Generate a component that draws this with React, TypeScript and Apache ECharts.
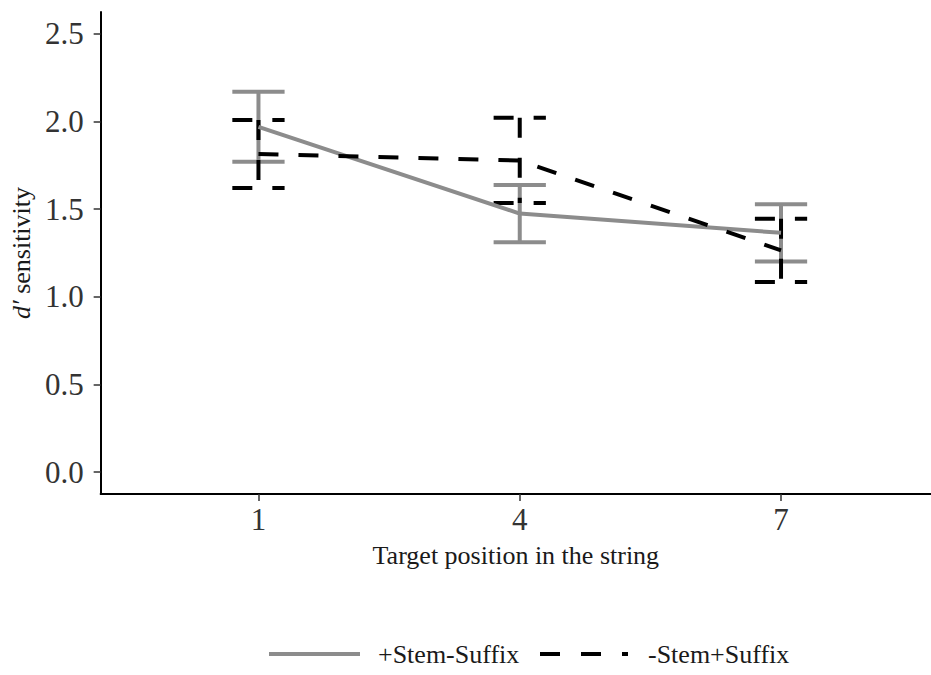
import React, { useEffect, useRef } from "react";
import * as echarts from "echarts";

// ---- data ----
const positionLabels = ["1", "4", "7"];
const positionIndex = [1, 2, 3];
const stemSuffixMean = [1.97, 1.475, 1.365];
const stemSuffixErr = [0.2, 0.163, 0.163];
const suffixMean = [1.815, 1.778, 1.265];
const suffixErr = [0.194, 0.243, 0.18];
const yTicks = [0, 0.5, 1.0, 1.5, 2.0, 2.5];

const GRAY = "#8c8c8c";
const BLACK = "#000000";
const FONT = "'Liberation Serif', 'Times New Roman', serif";
const DASH = [20, 20];

function errorBarSeries(name: string, means: number[], errs: number[], color: string, dash: number[] | null) {
  const data = positionIndex.map((x, i) => [x, means[i] - errs[i], means[i] + errs[i]]);
  return {
    type: "custom",
    name,
    data,
    encode: { x: 0, y: [1, 2] },
    renderItem: (params: any, api: any) => {
      const x = api.value(0);
      const lo = api.value(1);
      const hi = api.value(2);
      const top = api.coord([x, hi]);
      const bot = api.coord([x, lo]);
      const hw = api.size([0.1, 0])[0];
      const style: any = { stroke: color, lineWidth: 4, fill: null };
      if (dash) style.lineDash = dash;
      return {
        type: "group",
        children: [
          { type: "line", shape: { x1: top[0] - hw, y1: top[1], x2: top[0] + hw, y2: top[1] }, style: { ...style } },
          { type: "line", shape: { x1: top[0], y1: top[1], x2: bot[0], y2: bot[1] }, style: { ...style } },
          { type: "line", shape: { x1: bot[0] - hw, y1: bot[1], x2: bot[0] + hw, y2: bot[1] }, style: { ...style } },
        ],
      };
    },
  };
}

export default function App() {
  const ref = useRef<HTMLDivElement>(null);
  useEffect(() => {
    if (!ref.current) return;
    const chart = echarts.init(ref.current, null, { renderer: "svg" });
    const option: any = {
      animation: false,
      backgroundColor: "#ffffff",
      grid: { left: 100, top: 12, right: 0, bottom: 181, containLabel: false },
      xAxis: {
        type: "value",
        min: 0.396,
        max: 3.574,
        name: "Target position in the string",
        nameLocation: "middle",
        nameGap: 48,
        nameTextStyle: { fontFamily: FONT, fontSize: 26, color: "#1a1a1a" },
        axisLine: { show: true, onZero: false, lineStyle: { color: "#000", width: 2 } },
        axisTick: { show: true, length: 7, customValues: positionIndex, lineStyle: { color: "#333", width: 1.5 } },
        axisLabel: {
          customValues: positionIndex,
          margin: 10,
          fontFamily: FONT,
          fontSize: 31,
          color: "#333",
          formatter: (v: number) => positionLabels[positionIndex.indexOf(Math.round(v))] ?? "",
        },
        splitLine: { show: false },
      },
      yAxis: {
        type: "value",
        min: -0.125,
        max: 2.625,
        name: "{i|d′} sensitivity",
        nameLocation: "middle",
        nameGap: 38,
        nameTextStyle: {
          fontFamily: FONT,
          fontSize: 26,
          color: "#1a1a1a",
          rich: { i: { fontFamily: FONT, fontSize: 26, fontStyle: "italic", color: "#1a1a1a" } },
        },
        axisLine: { show: true, onZero: false, lineStyle: { color: "#000", width: 2 } },
        axisTick: { show: true, length: 7, customValues: yTicks, lineStyle: { color: "#333", width: 1.5 } },
        axisLabel: {
          customValues: yTicks,
          margin: 17,
          fontFamily: FONT,
          fontSize: 31,
          color: "#333",
          formatter: (v: number) => v.toFixed(1),
        },
        splitLine: { show: false },
      },
      series: [
        {
          type: "line",
          name: "+Stem-Suffix",
          data: positionIndex.map((x, i) => [x, stemSuffixMean[i]]),
          showSymbol: false,
          symbol: "none",
          lineStyle: { color: GRAY, width: 4 },
        },
        {
          type: "line",
          name: "-Stem+Suffix",
          data: positionIndex.map((x, i) => [x, suffixMean[i]]),
          showSymbol: false,
          symbol: "none",
          lineStyle: { color: BLACK, width: 4, type: DASH },
        },
        errorBarSeries("+Stem-Suffix err", stemSuffixMean, stemSuffixErr, GRAY, null),
        errorBarSeries("-Stem+Suffix err", suffixMean, suffixErr, BLACK, DASH),
      ],
      graphic: [
        { type: "line", shape: { x1: 269, y1: 654, x2: 360, y2: 654 }, style: { stroke: GRAY, lineWidth: 4 } },
        {
          type: "text",
          x: 378,
          y: 654,
          style: { text: "+Stem-Suffix", font: `26px ${FONT}`, fill: "#1a1a1a", verticalAlign: "middle", align: "left" },
        },
        { type: "line", shape: { x1: 540, y1: 654, x2: 628, y2: 654 }, style: { stroke: BLACK, lineWidth: 4, lineDash: [20, 21] } },
        {
          type: "text",
          x: 648,
          y: 654,
          style: { text: "-Stem+Suffix", font: `26px ${FONT}`, fill: "#1a1a1a", verticalAlign: "middle", align: "left" },
        },
      ],
    };
    chart.setOption(option);
    return () => chart.dispose();
  }, []);
  return <div ref={ref} style={{ width: 931, height: 675, position: "absolute", left: 0, top: 0 }} />;
}
